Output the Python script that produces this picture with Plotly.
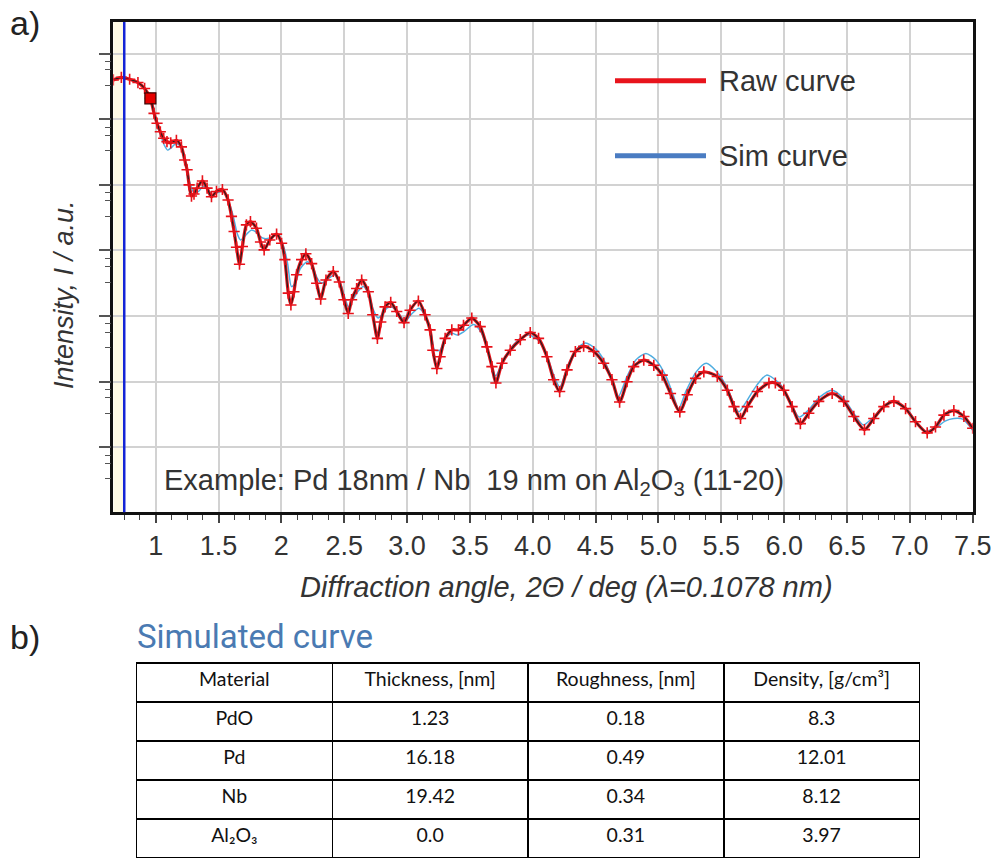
import numpy as np
import plotly.graph_objects as go

# ---------------- data ----------------
raw_angle = [0.663, 0.727, 0.793, 0.859, 0.912, 0.958, 0.987, 1.011, 1.037, 1.064,
             1.090, 1.120, 1.165, 1.205, 1.231, 1.250, 1.266, 1.285, 1.305, 1.330,
             1.372, 1.409, 1.444, 1.484, 1.531, 1.576, 1.603, 1.624, 1.643, 1.667,
             1.690, 1.722, 1.754, 1.802, 1.834, 1.863, 1.908, 1.962, 2.002, 2.028,
             2.055, 2.076, 2.100, 2.121, 2.161, 2.195, 2.241, 2.281, 2.313, 2.355,
             2.413, 2.461, 2.498, 2.532, 2.559, 2.599, 2.639, 2.692, 2.727, 2.764,
             2.791, 2.825, 2.870, 2.918, 2.976, 3.024, 3.090, 3.143, 3.183, 3.205,
             3.237, 3.263, 3.303, 3.356, 3.409, 3.449, 3.515, 3.582, 3.635, 3.675,
             3.707, 3.755, 3.821, 3.901, 3.980, 4.046, 4.113, 4.166, 4.214, 4.273,
             4.339, 4.405, 4.485, 4.564, 4.630, 4.691, 4.750, 4.803, 4.883, 4.963,
             5.030, 5.096, 5.170, 5.229, 5.295, 5.361, 5.468, 5.548, 5.601, 5.653,
             5.707, 5.787, 5.879, 5.930, 5.997, 6.063, 6.129, 6.196, 6.275, 6.382,
             6.474, 6.554, 6.639, 6.713, 6.793, 6.873, 6.966, 7.045, 7.138, 7.204,
             7.271, 7.350, 7.430, 7.500]
raw_log_intensity = [6.60, 6.64, 6.61, 6.56, 6.47, 6.32, 6.09, 5.94, 5.81, 5.71,
                     5.66, 5.64, 5.68, 5.58, 5.38, 5.23, 5.00, 4.83, 4.86, 4.95,
                     5.06, 4.95, 4.82, 4.90, 4.93, 4.77, 4.52, 4.29, 4.05, 3.79,
                     4.06, 4.39, 4.44, 4.34, 4.13, 4.01, 4.16, 4.25, 4.11, 3.86,
                     3.35, 3.17, 3.37, 3.63, 3.86, 3.95, 3.80, 3.50, 3.26, 3.55,
                     3.68, 3.52, 3.25, 3.04, 3.25, 3.42, 3.55, 3.37, 3.02, 2.66,
                     2.91, 3.14, 3.21, 3.07, 2.90, 3.09, 3.23, 3.02, 2.79, 2.48,
                     2.20, 2.38, 2.66, 2.79, 2.79, 2.86, 2.97, 2.84, 2.53, 2.23,
                     1.98, 2.28, 2.48, 2.64, 2.75, 2.66, 2.38, 2.03, 1.85, 2.18,
                     2.46, 2.54, 2.46, 2.28, 2.03, 1.69, 2.00, 2.23, 2.33, 2.25,
                     2.10, 1.82, 1.54, 1.80, 2.05, 2.15, 2.08, 1.87, 1.62, 1.44,
                     1.62, 1.85, 1.98, 1.98, 1.87, 1.62, 1.36, 1.52, 1.70, 1.82,
                     1.70, 1.47, 1.27, 1.44, 1.62, 1.70, 1.59, 1.39, 1.22, 1.31,
                     1.49, 1.56, 1.47, 1.29]

sim_angle = [0.958, 0.987, 1.011, 1.040, 1.070, 1.095, 1.120, 1.165, 1.205, 1.240,
             1.270, 1.300, 1.340, 1.380, 1.420, 1.450, 1.490, 1.540, 1.590, 1.620,
             1.650, 1.675, 1.700, 1.760, 1.800, 1.840, 1.875, 1.920, 1.975, 2.020,
             2.050, 2.080, 2.110, 2.150, 2.205, 2.250, 2.285, 2.320, 2.360, 2.425,
             2.470, 2.505, 2.535, 2.570, 2.610, 2.655, 2.700, 2.735, 2.770, 2.800,
             2.840, 2.880, 2.930, 2.985, 3.030, 3.095, 3.150, 3.190, 3.220, 3.263,
             3.300, 3.356, 3.400, 3.450, 3.530, 3.590, 3.640, 3.680, 3.705, 3.760,
             3.830, 3.900, 3.970, 4.050, 4.120, 4.170, 4.215, 4.280, 4.350, 4.420,
             4.500, 4.580, 4.640, 4.680, 4.750, 4.820, 4.900, 4.980, 5.060, 5.120,
             5.160, 5.220, 5.300, 5.380, 5.460, 5.550, 5.600, 5.640, 5.700, 5.780,
             5.860, 5.970, 6.050, 6.120, 6.200, 6.280, 6.380, 6.470, 6.560, 6.630,
             6.720, 6.800, 6.870, 6.970, 7.050, 7.120, 7.200, 7.280, 7.350, 7.420,
             7.500]
sim_log_intensity = [6.32, 6.09, 5.92, 5.76, 5.60, 5.53, 5.56, 5.63, 5.56, 5.35,
                     5.05, 4.90, 4.90, 4.98, 4.92, 4.85, 4.88, 4.90, 4.70, 4.50,
                     4.25, 4.16, 4.20, 4.31, 4.28, 4.20, 4.18, 4.20, 4.24, 4.05,
                     3.80, 3.45, 3.50, 3.72, 3.83, 3.75, 3.58, 3.50, 3.55, 3.63,
                     3.50, 3.28, 3.14, 3.25, 3.38, 3.45, 3.30, 3.08, 2.97, 3.02,
                     3.12, 3.14, 3.05, 2.92, 3.02, 3.12, 2.98, 2.75, 2.48, 2.48,
                     2.65, 2.74, 2.71, 2.76, 2.87, 2.75, 2.50, 2.20, 2.09, 2.30,
                     2.52, 2.66, 2.71, 2.62, 2.36, 2.08, 1.92, 2.25, 2.50, 2.59,
                     2.50, 2.28, 1.98, 1.77, 2.08, 2.33, 2.43, 2.33, 2.08, 1.78,
                     1.59, 1.86, 2.15, 2.28, 2.16, 1.90, 1.66, 1.54, 1.70, 1.94,
                     2.10, 1.96, 1.68, 1.46, 1.58, 1.76, 1.87, 1.75, 1.50, 1.34,
                     1.48, 1.64, 1.70, 1.60, 1.38, 1.25, 1.29, 1.40, 1.44, 1.43,
                     1.26]

cursor_angle = 0.75
fit_start_angle = [0.958]
fit_start_log_intensity = [6.32]

tick_values = [1, 1.5, 2, 2.5, 3, 3.5, 4, 4.5, 5, 5.5, 6, 6.5, 7, 7.5]
tick_labels = ["1", "1.5", "2", "2.5", "3.0", "3.5", "4.0", "4.5", "5.0",
               "5.5", "6.0", "6.5", "7.0", "7.5"]

table_header = ["Material", "Thickness, [nm]", "Roughness, [nm]", "Density, [g/cm³]"]
materials = ["PdO", "Pd", "Nb", "Al₂O₃"]
thickness = ["1.23", "16.18", "19.42", "0.0"]
roughness = ["0.18", "0.49", "0.34", "0.31"]
density = ["8.3", "12.01", "8.12", "3.97"]

# ---------------- figure ----------------
W, H = 1000, 859
def px(x):
    return x / W
def py(y):
    return 1 - y / H

raw_I = 10 ** np.array(raw_log_intensity)
sim_I = 10 ** np.array(sim_log_intensity)

fig = go.Figure()

# simulated curve
fig.add_trace(go.Scatter(x=sim_angle, y=sim_I, mode="lines",
                         line=dict(color="#4fade0", width=1.5, shape="spline", smoothing=0.7),
                         hoverinfo="skip", showlegend=False))
# raw curve: dense red band, dark connecting line, '+' markers
fig.add_trace(go.Scatter(x=raw_angle, y=raw_I, mode="lines",
                         line=dict(color="#e8121a", width=3.2, shape="spline", smoothing=0.7),
                         hoverinfo="skip", showlegend=False))
fig.add_trace(go.Scatter(x=raw_angle, y=raw_I, mode="lines+markers",
                         line=dict(color="#202020", width=1.2, shape="spline", smoothing=0.7),
                         marker=dict(symbol="cross-thin", size=8,
                                     line=dict(color="#e8121a", width=1.6)),
                         showlegend=False))
# fit start marker
fig.add_trace(go.Scatter(x=fit_start_angle, y=10 ** np.array(fit_start_log_intensity),
                         mode="markers",
                         marker=dict(symbol="square", size=11, color="#e60000",
                                     line=dict(color="#3a0000", width=1.2)),
                         showlegend=False))

# table
table_font = dict(family="Lato, Carlito, sans-serif", size=19.5, color="#111")
fig.add_trace(go.Table(
    domain=dict(x=[px(136.5), px(920)], y=[0, py(663)]),
    columnwidth=[1, 1, 1, 1],
    header=dict(values=table_header, height=39,
                fill=dict(color="white"), line=dict(color="black", width=1.5),
                align="center", font=table_font),
    cells=dict(values=[materials, thickness, roughness, density], height=39,
               fill=dict(color="white"), line=dict(color="black", width=1.5),
               align="center", font=table_font),
))

y_minor = []
for d in range(0, 9):
    for f in (0.33, 0.57, 0.76):
        y_minor.append(f * 10 ** d)

fig.update_layout(
    width=W, height=H, margin=dict(l=0, r=0, t=0, b=0),
    paper_bgcolor="white", plot_bgcolor="white", showlegend=False,
    font=dict(family="Liberation Sans, Arial, sans-serif", color="#333"),
    xaxis=dict(domain=[px(113.3), px(972.7)], range=[0.663, 7.5],
               tickmode="array", tickvals=tick_values, ticktext=tick_labels,
               tickfont=dict(size=27, color="#333"),
               ticks="outside", ticklen=8, tickwidth=1.5, tickcolor="#444",
               ticklabelstandoff=0,
               minor=dict(dtick=0.125, ticks="outside", ticklen=5, tickwidth=1.2,
                          tickcolor="#444", showgrid=False),
               showgrid=True, gridcolor="#d2d2d2", gridwidth=1.6,
               showline=True, linecolor="#111", linewidth=2.5, mirror=True,
               zeroline=False, automargin=False, fixedrange=True),
    yaxis=dict(domain=[py(512.3), py(22)], type="log", range=[0.009, 7.483],
               tickmode="array", tickvals=[10 ** d for d in range(0, 8)],
               showticklabels=False,
               ticks="outside", ticklen=12, tickwidth=1.5, tickcolor="#555",
               minor=dict(tickmode="array", tickvals=y_minor, ticks="outside",
                          ticklen=6, tickwidth=1.2, tickcolor="#555", showgrid=False),
               showgrid=True, gridcolor="#d2d2d2", gridwidth=1.6,
               showline=True, linecolor="#111", linewidth=2.5, mirror=True,
               zeroline=False, automargin=False, fixedrange=True),
)

# cursor region and line
fig.add_shape(type="rect", xref="x", yref="y domain", x0=0.663, x1=cursor_angle,
              y0=0, y1=1, fillcolor="#fffbe6", line=dict(width=0), layer="below")
fig.add_shape(type="line", xref="x", yref="y domain", x0=cursor_angle, x1=cursor_angle,
              y0=0, y1=1, line=dict(color="#1424d6", width=2.5))

# manual legend
legend_items = [("Raw curve", "#e8141c", 80.7), ("Sim curve", "#4a7cc2", 155.7)]
for name, col, yy in legend_items:
    fig.add_shape(type="line", xref="paper", yref="paper", x0=px(615), x1=px(706),
                  y0=py(yy), y1=py(yy), line=dict(color=col, width=5))
    fig.add_annotation(x=px(717), y=py(yy), xref="paper", yref="paper",
                       text=name, showarrow=False, xanchor="left", yanchor="middle",
                       font=dict(size=29, color="#333"))

# in-plot caption
fig.add_annotation(x=px(162), y=py(482), xref="paper", yref="paper",
                   text="Example: Pd 18nm / Nb  19 nm on Al<sub>2</sub>O<sub>3</sub> (11-20)",
                   showarrow=False, xanchor="left", yanchor="middle",
                   font=dict(size=29, color="#333"))

# axis titles
fig.add_annotation(x=px(566), y=py(587), xref="paper", yref="paper",
                   text="<i>Diffraction angle, 2Θ / deg (λ=0.1078 nm)</i>",
                   showarrow=False, xanchor="center", yanchor="middle",
                   font=dict(size=29, color="#333"))
fig.add_annotation(x=px(64), y=py(295), xref="paper", yref="paper",
                   text="<i>Intensity, I / a.u.</i>", textangle=-90,
                   showarrow=False, xanchor="center", yanchor="middle",
                   font=dict(size=27, color="#333"))

# panel labels
fig.add_annotation(x=px(8), y=py(23), xref="paper", yref="paper", text="a)",
                   showarrow=False, xanchor="left", yanchor="middle",
                   font=dict(size=34, color="#222"))
fig.add_annotation(x=px(8), y=py(637), xref="paper", yref="paper", text="b)",
                   showarrow=False, xanchor="left", yanchor="middle",
                   font=dict(size=34, color="#222"))
fig.add_annotation(x=px(135), y=py(636), xref="paper", yref="paper",
                   text="Simulated curve", showarrow=False,
                   xanchor="left", yanchor="middle",
                   font=dict(family="Liberation Sans Narrow, Arial Narrow, Roboto, sans-serif",
                             size=33, color="#4a7ab2"))

fig.write_html("out.html")
